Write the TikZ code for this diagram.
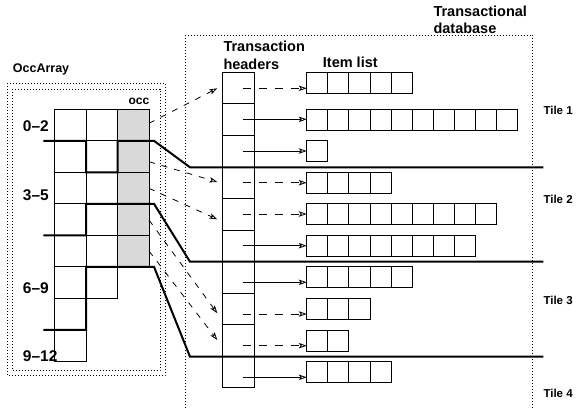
\documentclass[tikz,border=0pt]{standalone}
\usepackage{fontspec}
\setmainfont{Liberation Sans}
\usetikzlibrary{arrows.meta}
\begin{document}
\begin{tikzpicture}[x=1pt,y=-1pt,
  gridline/.style={line width=0.9pt},
  tileline/.style={line width=2pt, line join=miter},
  dotbox/.style={line width=0.8pt, dash pattern=on 0.8pt off 2.2pt},
  lbl/.style={inner sep=0pt, anchor=base west},
  fbig/.style={font=\fontsize{15.5}{18}\selectfont\bfseries},
  fmid/.style={font=\fontsize{14.5}{17}\selectfont\bfseries},
  fsmall/.style={font=\fontsize{12.5}{15}\selectfont\bfseries},
  ftile/.style={font=\fontsize{11.5}{13}\selectfont\bfseries},
  hcell/.style={draw, gridline, minimum width=31.3pt, minimum height=31.55pt, inner sep=0pt},
  arr/.style={line width=0.8pt, -{Stealth[length=8pt,width=5.5pt,inset=2pt,open]}},
  darr/.style={arr, dash pattern=on 8pt off 8pt},
  diagarr/.style={arr, dash pattern=on 6pt off 7pt},
]
\useasboundingbox (0,0) rectangle (583,408);

% ---------- OccArray ----------
\draw[dotbox] (7.3,83.3) rectangle (165,375.7);
\draw[dotbox] (12.3,89) rectangle (160,370.7);
\fill[gray!30] (117.7,109.3) rectangle (149,266.8);
\foreach \i in {0,...,7}
  \draw[gridline] (54.3,109.3+31.5*\i) rectangle (86,140.8+31.5*\i);
\foreach \i in {0,...,5}
  \draw[gridline] (86,109.3+31.5*\i) rectangle (117.7,140.8+31.5*\i);
\foreach \i in {0,...,4}
  \draw[gridline] (117.7,109.3+31.5*\i) rectangle (149,140.8+31.5*\i);

\node[lbl,fsmall] (occarray) at (12.7,72.7) {OccArray};
\node[lbl,font=\fontsize{12}{14}\selectfont\bfseries] (occ) at (128.3,104) {occ};
\node[lbl,fbig] (r1) at (22.7,131) {0\textendash 2};
\node[lbl,fbig] (r2) at (22.7,200) {3\textendash 5};
\node[lbl,fbig] (r3) at (22.7,293.3) {6\textendash 9};
\node[lbl,fbig] (r4) at (22.7,361.7) {9\textendash 12};

% ---------- Transactional database ----------
\draw[dotbox] (185.7,408) -- (185.7,35) -- (532.7,35) -- (532.7,408);
\node[lbl,fmid] (tdb1) at (433.3,16.7) {Transactional};
\node[lbl,fmid] (tdb2) at (433.3,33.3) {database};
\node[lbl,fmid] (th1) at (223.3,51.7) {Transaction};
\node[lbl,fmid] (th2) at (223.3,69) {headers};
\node[lbl,fmid] (il) at (322.7,67.3) {Item list};

% header cells
\foreach \i in {0,...,9}
  \node[hcell] (h\i) at (238.35,88.1+31.55*\i) {};

% item lists: row / top / number of cells / arrow y / style
\foreach \r/\t/\n/\a/\s in {0/72.3/5/88.3/darr, 1/109/10/119.3/arr, 2/140.7/1/151/arr,
    3/172.3/4/182.7/darr, 4/203.3/9/214/darr, 5/235/8/245.7/arr, 6/266.7/5/282.3/arr,
    7/298.3/3/314/darr, 8/330/2/345.7/darr, 9/361.7/4/377.3/arr}{
  \foreach \k in {1,...,\n}
    \draw[gridline] (306.7+21.1*\k-21.1,\t) rectangle (306.7+21.1*\k,\t+21);
  \coordinate (s\r) at (243.3,\a);
  \coordinate (e\r) at (306.7,\a);
  \draw[\s] (s\r) -- (e\r);
}

% ---------- tile boundaries ----------
\draw[tileline] (43.3,140.8) -- (86,140.8) -- (86,172.3) -- (117.7,172.3) -- (117.7,140.8)
  -- (154,140.8) -- (190,167.3) -- (543.3,167.3);
\draw[tileline] (43.3,235.3) -- (86,235.3) -- (86,203.8) -- (154,203.8) -- (190,261.7) -- (543.3,261.7);
\draw[tileline] (43.3,329.8) -- (86,329.8) -- (86,266.8) -- (154,266.8) -- (190,356.7) -- (543.3,356.7);

\node[lbl,ftile] (t1) at (543.3,114.3) {Tile 1};
\node[lbl,ftile] (t2) at (543.3,203.3) {Tile 2};
\node[lbl,ftile] (t3) at (543.3,304.3) {Tile 3};
\node[lbl,ftile] (t4) at (543.3,397.7) {Tile 4};

% ---------- occ -> header arrows ----------
\foreach \j/\ys/\ye in {1/123.3/88.3, 2/161.7/182, 3/188.3/219.3, 4/220/313.3, 5/251/340}{
  \coordinate (o\j) at (149,\ys);
  \coordinate (p\j) at (217.3,\ye);
  \draw[diagarr] (o\j) -- (p\j);
}
\end{tikzpicture}
\end{document}
